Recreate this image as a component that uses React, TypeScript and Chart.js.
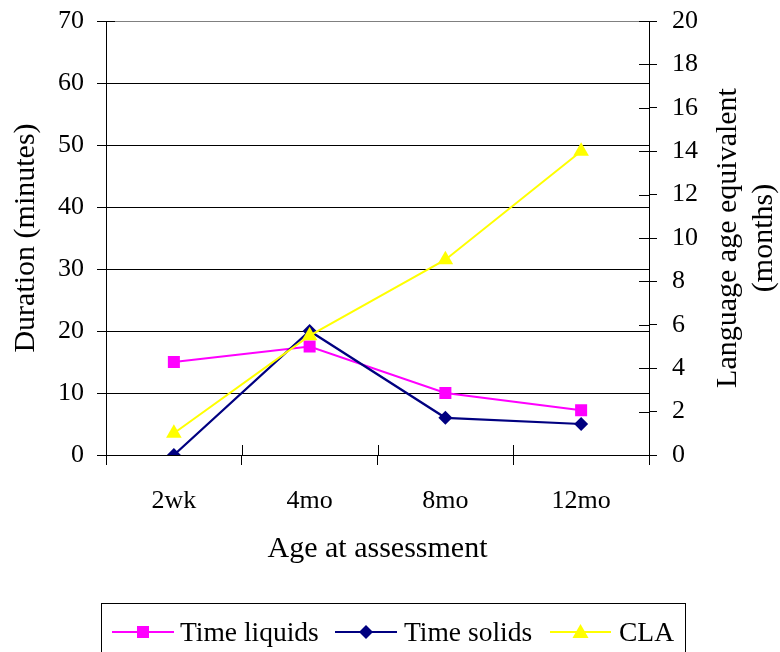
import React, { useEffect, useRef } from "react";
import { Chart, registerables } from "chart.js";

Chart.register(...registerables);

// Ages at which each assessment was made
const categories = ["2wk", "4mo", "8mo", "12mo"];
// Duration of feeding (minutes)
const timeLiquids = [15, 17.5, 10, 7.2];
const timeSolids = [0, 20, 6, 5];
// Comprehension language age equivalent (months)
const cla = [1, 5.5, 9, 14];

const seriesNames = ["Time liquids", "Time solids", "CLA"];
const seriesColors = ["#FF00FF", "#000080", "#FFFF00"];

const FONT = "'Liberation Serif', 'Times New Roman', serif";
const TICK_SIZE = 26;
const TITLE_SIZE = 30;
const LEGEND_SIZE = 27.5;

// Draws the inner halves of the tick marks and the rotated right-hand title
const axisExtras = {
  id: "axisExtras",
  afterDraw(chart: any) {
    const { ctx, chartArea } = chart;
    const { left, right, bottom } = chartArea;
    ctx.save();
    ctx.strokeStyle = "#000";
    ctx.lineWidth = 1;
    ctx.beginPath();
    const n = categories.length;
    const w = (right - left) / n;
    for (let i = 0; i <= n; i++) {
      const x = Math.round(left + i * w) + 0.5;
      ctx.moveTo(x, bottom);
      ctx.lineTo(x, bottom - 10);
    }
    const y1 = chart.scales.y1;
    y1.ticks.forEach((t: any) => {
      const y = Math.round(y1.getPixelForValue(t.value)) + 0.5;
      ctx.moveTo(right, y);
      ctx.lineTo(right - 10, y);
    });
    const y0 = chart.scales.y;
    y0.ticks.forEach((t: any) => {
      const y = Math.round(y0.getPixelForValue(t.value)) + 0.5;
      ctx.moveTo(left, y);
      ctx.lineTo(left + 9, y);
    });
    ctx.stroke();

    const cy = (chartArea.top + chartArea.bottom) / 2;
    ctx.fillStyle = "#000";
    ctx.font = `${TITLE_SIZE}px ${FONT}`;
    ctx.textAlign = "center";
    ctx.textBaseline = "middle";
    const lines = ["Language age equivalent", "(months)"];
    const xs = [728, 764];
    lines.forEach((txt, i) => {
      ctx.save();
      ctx.translate(xs[i], cy);
      ctx.rotate(-Math.PI / 2);
      ctx.fillText(txt, 0, 0);
      ctx.restore();
    });
    ctx.restore();
  },
};

function LegendMarker({ kind, x, y, color }: { kind: number; x: number; y: number; color: string }) {
  if (kind === 0) return <rect x={x - 6} y={y - 6} width={12} height={12} fill={color} />;
  if (kind === 1) return <polygon points={`${x},${y - 7} ${x + 7},${y} ${x},${y + 7} ${x - 7},${y}`} fill={color} />;
  return <polygon points={`${x},${y - 8} ${x + 8},${y + 6} ${x - 8},${y + 6}`} fill={color} />;
}

const noOverhang = (s: any) => {
  s.paddingTop = 0;
  s.paddingBottom = 0;
  s.paddingLeft = 0;
  s.paddingRight = 0;
};

export default function App() {
  const canvasRef = useRef<HTMLCanvasElement | null>(null);

  useEffect(() => {
    if (!canvasRef.current) return;
    const tickFont = { family: FONT, size: TICK_SIZE };
    const titleFont = { family: FONT, size: TITLE_SIZE };
    const chart = new Chart(canvasRef.current, {
      type: "line",
      data: {
        labels: categories,
        datasets: [
          {
            label: seriesNames[0],
            data: timeLiquids,
            yAxisID: "y",
            borderColor: seriesColors[0],
            backgroundColor: seriesColors[0],
            borderWidth: 2,
            pointStyle: "rect",
            pointRadius: 8.5,
            pointBorderWidth: 0,
            order: 2,
          },
          {
            label: seriesNames[1],
            data: timeSolids,
            yAxisID: "y",
            borderColor: seriesColors[1],
            backgroundColor: seriesColors[1],
            borderWidth: 2.2,
            pointStyle: "rectRot",
            pointRadius: 7,
            pointBorderWidth: 0,
            order: 1,
          },
          {
            label: seriesNames[2],
            data: cla,
            yAxisID: "y1",
            borderColor: seriesColors[2],
            backgroundColor: seriesColors[2],
            borderWidth: 2,
            pointStyle: "triangle",
            pointRadius: 9,
            pointBorderWidth: 0,
            order: 0,
          },
        ],
      },
      options: {
        animation: false,
        responsive: false,
        maintainAspectRatio: false,
        layout: { padding: { top: 21, left: 0, right: 0, bottom: 0 } },
        plugins: { legend: { display: false }, tooltip: { enabled: false } },
        scales: {
          x: {
            type: "category",
            offset: true,
            grid: { offset: true, drawOnChartArea: false, color: "#000", tickLength: 10 },
            border: { color: "#000", width: 1 },
            ticks: { font: tickFont, color: "#000", padding: 21, maxRotation: 0 },
            title: {
              display: true,
              text: "Age at assessment",
              font: titleFont,
              color: "#000",
              padding: { top: 0, bottom: 85 },
            },
            afterFit: (s: any) => {
              s.height = 197;
              noOverhang(s);
            },
          },
          y: {
            position: "left",
            min: 0,
            max: 70,
            ticks: { stepSize: 10, font: tickFont, color: "#000", padding: 13 },
            grid: {
              color: (c: any) => (c.tick && c.tick.value === 70 ? "#808080" : "#000"),
              tickColor: "#000",
              tickLength: 9,
            },
            border: { color: "#000", width: 1 },
            title: {
              display: true,
              text: "Duration (minutes)",
              font: titleFont,
              color: "#000",
              padding: { top: 8, bottom: 0 },
            },
            afterFit: (s: any) => {
              s.width = 106;
              noOverhang(s);
            },
          },
          y1: {
            position: "right",
            min: 0,
            max: 20,
            ticks: { stepSize: 2, font: tickFont, color: "#000", padding: 15 },
            grid: { drawOnChartArea: false, color: "#000", tickLength: 8 },
            border: { color: "#000", width: 1 },
            afterFit: (s: any) => {
              s.width = 131;
              noOverhang(s);
            },
          },
        },
      },
      plugins: [axisExtras],
    } as any);
    return () => chart.destroy();
  }, []);

  const legendY = 632;
  const items = [
    { x1: 112, x2: 174, tx: 180 },
    { x1: 335, x2: 397, tx: 404 },
    { x1: 550, x2: 611, tx: 619 },
  ];

  return (
    <div
      style={{
        position: "absolute",
        left: 0,
        top: 0,
        width: 780,
        height: 652,
        overflow: "hidden",
        background: "#fff",
      }}
    >
      <canvas ref={canvasRef} width={780} height={652} style={{ display: "block", width: 780, height: 652 }} />
      <div
        style={{
          position: "absolute",
          left: 101,
          top: 603,
          width: 585,
          height: 70,
          border: "1px solid #000",
          boxSizing: "border-box",
        }}
      />
      <svg width={780} height={652} style={{ position: "absolute", left: 0, top: 0 }}>
        {items.map((it, i) => (
          <g key={i}>
            <line x1={it.x1} y1={legendY} x2={it.x2} y2={legendY} stroke={seriesColors[i]} strokeWidth={2} />
            <LegendMarker kind={i} x={(it.x1 + it.x2) / 2} y={legendY} color={seriesColors[i]} />
          </g>
        ))}
      </svg>
      {items.map((it, i) => (
        <span
          key={i}
          style={{
            position: "absolute",
            left: it.tx,
            top: legendY - 17,
            fontFamily: FONT,
            fontSize: LEGEND_SIZE,
            lineHeight: "34px",
            color: "#000",
            whiteSpace: "nowrap",
          }}
        >
          {seriesNames[i]}
        </span>
      ))}
    </div>
  );
}
